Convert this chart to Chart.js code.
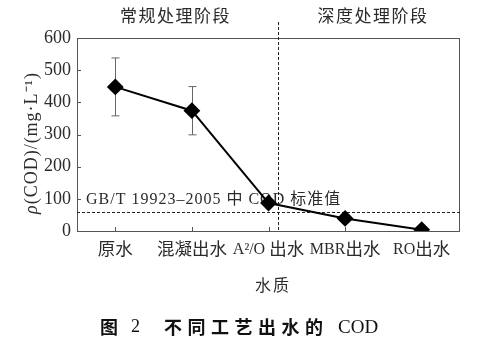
<!DOCTYPE html>
<html>
<head>
<meta charset="utf-8">
<script src="https://cdn.jsdelivr.net/npm/chart.js@4/dist/chart.umd.min.js"></script>
<style>
  html, body { margin: 0; padding: 0; background: #fff; }
  #wrap { width: 488px; height: 345px; }
</style>
</head>
<body>
<div id="wrap"><canvas id="myChart" width="488" height="345"></canvas></div>
<script>
// COD of effluent after each treatment step (mg/L)
const stages = ["原水", "混凝出水", "A²/O 出水", "MBR出水", "RO出水"];
const codMean = [448, 374, 87, 39, 4];
const codErr = [90, 75, 0, 0, 0];
const yTicks = [0, 100, 200, 300, 400, 500, 600];
const standardCod = 60;          // GB/T 19923-2005 limit
const stageSplit = 2.13;         // category position of conventional / advanced boundary
const stageNames = ["常规处理阶段", "深度处理阶段"];

const SERIF = "'Liberation Serif', 'Noto Sans CJK SC', serif";
const BOLD_CJK = "bold 18px 'Noto Sans CJK SC', sans-serif";
const INK = "#2b2b2b";

// draw text with extra tracking, centred or left aligned
function spaced(ctx, text, x, y, spacing, align) {
  ctx.letterSpacing = spacing + "px";
  const w = ctx.measureText(text).width - spacing;
  const sx = align === "center" ? x - w / 2 : x;
  ctx.textAlign = "left";
  ctx.fillText(text, sx, y);
  ctx.letterSpacing = "0px";
}

// latin runs at one size, CJK runs slightly larger, centred on x
function mixed(ctx, text, x, y, latin, cjk) {
  const runs = text.match(/[\u4e00-\u9fff]+|[^\u4e00-\u9fff]+/g);
  const fontOf = r => /[\u4e00-\u9fff]/.test(r) ? cjk + "px " + SERIF : latin + "px " + SERIF;
  let total = 0;
  const widths = runs.map(r => { ctx.font = fontOf(r); const w = ctx.measureText(r).width; total += w; return w; });
  let cx = x - total / 2;
  ctx.textAlign = "left";
  runs.forEach((r, i) => { ctx.font = fontOf(r); ctx.fillText(r, cx, y); cx += widths[i]; });
}

// box, inward ticks, error bars, dashed guide lines and extra text
const decorations = {
  id: "decorations",
  beforeDatasetsDraw(chart) {
    const { ctx, chartArea: a, scales: { x, y } } = chart;
    ctx.save();
    ctx.strokeStyle = "#555";
    ctx.lineWidth = 1;
    ctx.strokeRect(a.left + 0.5, a.top + 0.5, a.right - a.left - 1, a.bottom - a.top);

    // inward tick marks
    ctx.beginPath();
    stages.forEach((_, i) => {
      const px = Math.round(x.getPixelForValue(i)) + 0.5;
      ctx.moveTo(px, a.bottom);
      ctx.lineTo(px, a.bottom - 4);
    });
    yTicks.forEach(v => {
      const py = Math.round(y.getPixelForValue(v)) + 0.5;
      ctx.moveTo(a.left, py);
      ctx.lineTo(a.left + 4, py);
    });
    ctx.stroke();

    // error bars
    ctx.strokeStyle = "#666";
    ctx.beginPath();
    codMean.forEach((m, i) => {
      if (!codErr[i]) return;
      const px = Math.round(x.getPixelForValue(i)) + 0.5;
      const hi = y.getPixelForValue(m + codErr[i]);
      const lo = y.getPixelForValue(m - codErr[i]);
      ctx.moveTo(px, hi); ctx.lineTo(px, lo);
      ctx.moveTo(px - 4, hi); ctx.lineTo(px + 4, hi);
      ctx.moveTo(px - 4, lo); ctx.lineTo(px + 4, lo);
    });
    ctx.stroke();

    // standard value and stage divider
    ctx.strokeStyle = "#222";
    ctx.setLineDash([3, 2]);
    const sy = Math.round(y.getPixelForValue(standardCod)) + 0.5;
    ctx.beginPath();
    ctx.moveTo(a.left, sy); ctx.lineTo(a.right, sy);
    const dx = Math.round(x.getPixelForValue(stageSplit)) + 0.5;
    ctx.moveTo(dx, a.top - 16); ctx.lineTo(dx, a.bottom);
    ctx.stroke();
    ctx.setLineDash([]);

    ctx.fillStyle = INK;
    ctx.textBaseline = "middle";
    ctx.font = "16px " + SERIF;
    spaced(ctx, "GB/T 19923–2005 中 COD 标准值", a.left + 9, sy - 13, 1, "left");

    ctx.font = "17px " + SERIF;
    spaced(ctx, stageNames[0], (a.left + dx) / 2 - 3, 18, 1.5, "center");
    spaced(ctx, stageNames[1], (dx + a.right) / 2 + 3, 18, 1.5, "center");

    // category labels, placed by the x scale
    stages.forEach((s, i) => {
      mixed(ctx, s, x.getPixelForValue(i), a.bottom + 19, 16, 17.5);
    });
    ctx.restore();
  },
  afterDraw(chart) {
    const { ctx } = chart;
    ctx.save();
    ctx.fillStyle = INK;
    ctx.textBaseline = "middle";

    // y axis title
    ctx.save();
    ctx.translate(32, 143);
    ctx.rotate(-Math.PI / 2);
    const rho = "ρ";
    const rest = "(COD)/(mg·L⁻¹)";
    ctx.letterSpacing = "1px";
    ctx.font = "italic 18px " + SERIF;
    const w1 = ctx.measureText(rho).width;
    ctx.font = "18px " + SERIF;
    const w2 = ctx.measureText(rest).width;
    const sx = -(w1 + w2) / 2;
    ctx.textAlign = "left";
    ctx.font = "italic 18px " + SERIF;
    ctx.fillText(rho, sx, 0);
    ctx.font = "18px " + SERIF;
    ctx.fillText(rest, sx + w1, 0);
    ctx.letterSpacing = "0px";
    ctx.restore();

    // x axis title
    ctx.font = "16px " + SERIF;
    spaced(ctx, "水质", 272, 287, 2, "center");

    // caption
    ctx.fillStyle = "#111";
    ctx.font = BOLD_CJK;
    ctx.textAlign = "left";
    ctx.fillText("图", 100, 327);
    ctx.font = "18px " + SERIF;
    ctx.fillText("2", 131, 327);
    ctx.font = BOLD_CJK;
    spaced(ctx, "不同工艺出水的", 164, 327, 5.5, "left");
    ctx.font = "19px " + SERIF;
    ctx.fillText("COD", 338, 328);
    ctx.restore();
  }
};

new Chart(document.getElementById("myChart"), {
  type: "line",
  data: {
    labels: stages,
    datasets: [{
      data: codMean,
      borderColor: "#000",
      backgroundColor: "#000",
      borderWidth: 2,
      tension: 0,
      pointStyle: "rectRot",
      pointRadius: 7,
      pointHoverRadius: 7
    }]
  },
  options: {
    responsive: false,
    animation: false,
    events: [],
    layout: { padding: { top: 38, right: 28, left: 0, bottom: 0 } },
    plugins: { legend: { display: false }, tooltip: { enabled: false } },
    scales: {
      x: {
        offset: true,
        grid: { display: false, drawTicks: false },
        border: { display: false },
        ticks: { display: false },
        afterFit: s => { s.height = 114; }
      },
      y: {
        min: 0,
        max: 600,
        grid: { display: false, drawTicks: false },
        border: { display: false },
        ticks: { stepSize: 100, color: INK, padding: 6, font: { size: 18, family: SERIF } },
        afterFit: s => { s.width = 77; }
      }
    }
  },
  plugins: [decorations]
});
</script>
</body>
</html>
